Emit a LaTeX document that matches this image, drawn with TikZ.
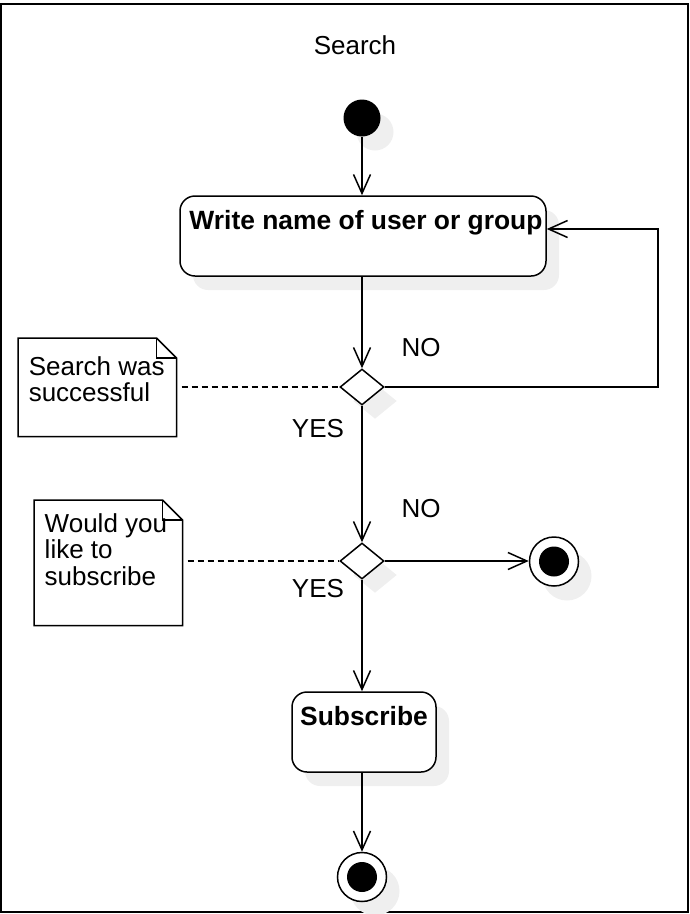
\documentclass[tikz,border=0pt]{standalone}
\usepackage{fontspec}
\setmainfont{Liberation Sans}
\usetikzlibrary{arrows.meta,shapes.geometric}
\definecolor{shadowgray}{HTML}{EFEFEF}
\begin{document}
\begin{tikzpicture}[x=1pt,y=-1pt,line width=1.5pt,
  txt/.style={inner sep=0pt,font=\fontsize{26}{26}\selectfont},
  btxt/.style={inner sep=0pt,font=\fontsize{26.4}{26}\selectfont\bfseries},
  arr/.style={-{Straight Barb[length=19pt,width=17pt,line width=1.5pt]}},
  dline/.style={dash pattern=on 6pt off 4pt},
  actbox/.style={draw,fill=white,rounded corners=15pt,inner sep=0pt},
  actshadow/.style={fill=shadowgray,draw=none,rounded corners=15pt,inner sep=0pt},
  dec/.style={diamond,aspect=1.22,draw,fill=white,minimum width=44pt,minimum height=36pt,inner sep=0pt},
  decshadow/.style={diamond,aspect=1.22,fill=shadowgray,minimum width=44pt,minimum height=36pt,inner sep=0pt},
  ring/.style={circle,draw,fill=white,minimum size=49pt,inner sep=0pt},
  ringshadow/.style={circle,fill=shadowgray,minimum size=49pt,inner sep=0pt},
  dot/.style={circle,fill=black,inner sep=0pt},
  notearea/.style={inner sep=0pt,anchor=north west}
]
\useasboundingbox (0,0) rectangle (690,914);
\draw[line width=2pt] (1,4) rectangle (688,912);

% shadows
\node[circle,fill=shadowgray,minimum size=37pt,inner sep=0pt] (starts) at (375,132) {};
\node[actshadow,minimum width=366pt,minimum height=80pt] (box1s) at (376,250) {};
\node[decshadow] (d1s) at (375,401) {};
\node[decshadow] (d2s) at (375,575) {};
\node[ringshadow] (end1s) at (567,576) {};
\node[actshadow,minimum width=144pt,minimum height=80pt] (box2s) at (377,746) {};
\node[ringshadow] (end2s) at (375,891) {};

% title
\node[txt,anchor=base] (title) at (355,54) {Search};

% start
\node[dot,minimum size=37pt] (start) at (362,118) {};

% action 1
\node[actbox,minimum width=366pt,minimum height=80pt] (box1) at (363,236) {};
\node[btxt,anchor=base] (box1t) at (366,229) {Write name of user or group};

% decisions
\node[dec] (d1) at (362,387) {};
\node[dec] (d2) at (362,561) {};

% end 1
\node[ring] (end1) at (554,561.5) {};
\node[dot,minimum size=30pt] (end1c) at (554,561.5) {};

% action 2
\node[actbox,minimum width=144pt,minimum height=80pt] (box2) at (364,732) {};
\node[btxt,anchor=base] (box2t) at (364,725) {Subscribe};

% end 2
\node[ring] (end2) at (362,877) {};
\node[dot,minimum size=30pt] (end2c) at (362,877) {};

% notes
\node[notearea,minimum width=157pt,minimum height=97pt] (n1) at (18,338) {};
\draw[fill=white] (n1.north west) -- ([xshift=-20pt]n1.north east) -- ([yshift=-20pt]n1.north east) -- (n1.south east) -- (n1.south west) -- cycle;
\draw ([xshift=-20pt]n1.north east) -- ([xshift=-20pt,yshift=-20pt]n1.north east) -- ([yshift=-20pt]n1.north east);
\node[txt,anchor=base west] (n1a) at (28,375) {Search was};
\node[txt,anchor=base west] (n1b) at (28,401) {successful};

\node[notearea,minimum width=147pt,minimum height=124pt] (n2) at (34,500) {};
\draw[fill=white] (n2.north west) -- ([xshift=-20pt]n2.north east) -- ([yshift=-20pt]n2.north east) -- (n2.south east) -- (n2.south west) -- cycle;
\draw ([xshift=-20pt]n2.north east) -- ([xshift=-20pt,yshift=-20pt]n2.north east) -- ([yshift=-20pt]n2.north east);
\node[txt,anchor=base west] (n2a) at (44,532) {Would you};
\node[txt,anchor=base west] (n2b) at (44,558) {like to};
\node[txt,anchor=base west] (n2c) at (44,585) {subscribe};

% labels
\node[txt,anchor=base] (no1) at (421,356) {NO};
\node[txt,anchor=base] (yes1) at (318,437) {YES};
\node[txt,anchor=base] (no2) at (421,517) {NO};
\node[txt,anchor=base] (yes2) at (318,597) {YES};

% connectors
\coordinate (loopc) at (658,229);
\draw[arr] (start.south) -- (start.south |- box1.north);
\draw[arr] (d1 |- box1.south) -- (d1.north);
\draw[arr] (d1.east) -| (loopc) -- (box1.east |- loopc);
\draw[arr] (d1.south) -- (d2.north);
\draw[arr] (d2.east) -- (d2.east -| end1.west);
\draw[arr] (d2.south) -- (d2 |- box2.north);
\draw[arr] (end2 |- box2.south) -- (end2.north);
\draw[dline] ([xshift=5pt]n1.east |- d1.west) -- (d1.west);
\draw[dline] ([xshift=5pt]n2.east |- d2.west) -- (d2.west);
\end{tikzpicture}
\end{document}
